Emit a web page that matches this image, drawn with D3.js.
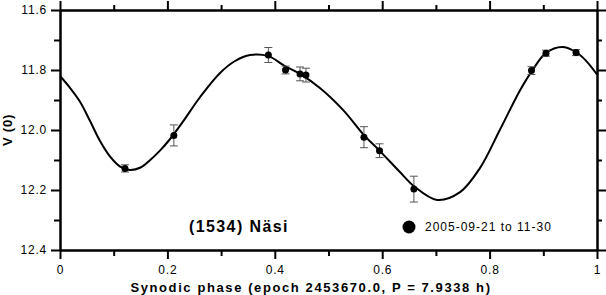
<!DOCTYPE html>
<html>
<head>
<meta charset="utf-8">
<script src="https://cdn.jsdelivr.net/npm/d3@7"></script>
<style>
  body { margin: 0; background: #fff; }
  svg { display: block; font-family: "Liberation Sans", Arial, sans-serif; }
</style>
</head>
<body>
<div id="chart"></div>
<script>
// observed points (phase, V mag, error)
const obsPhase = [0.121, 0.212, 0.388, 0.420, 0.447, 0.458, 0.566, 0.595, 0.659, 0.878, 0.905, 0.961];
const obsMag   = [12.128, 12.018, 11.750, 11.800, 11.813, 11.817, 12.024, 12.069, 12.197, 11.802, 11.744, 11.742];
const obsErr   = [0.012, 0.035, 0.025, 0.013, 0.023, 0.023, 0.035, 0.023, 0.043, 0.013, 0.010, 0.010];

// fitted curve
const fitPhase = [0, 0.018, 0.037, 0.056, 0.074, 0.093, 0.112, 0.130, 0.150, 0.168, 0.187, 0.205, 0.229, 0.261, 0.298, 0.326, 0.354, 0.387,
                  0.419, 0.447, 0.484, 0.527, 0.566, 0.594, 0.633, 0.659, 0.702, 0.745, 0.782, 0.819,
                  0.857, 0.879, 0.905, 0.935, 0.961, 0.981, 1.0];
const fitMag   = [11.820, 11.858, 11.905, 11.970, 12.035, 12.088, 12.122, 12.133, 12.125, 12.100, 12.067, 12.030, 11.972, 11.890, 11.810, 11.770, 11.750, 11.753,
                  11.787, 11.813, 11.860, 11.933, 12.017, 12.067, 12.140, 12.187, 12.233, 12.207, 12.127, 12.000,
                  11.867, 11.803, 11.743, 11.723, 11.740, 11.772, 11.815];

const xMajor = [0, 0.2, 0.4, 0.6, 0.8, 1];
const xMinor = [0.1, 0.3, 0.5, 0.7, 0.9];
const yMajor = [11.6, 11.8, 12.0, 12.2, 12.4];
const yMinor = [11.7, 11.9, 12.1, 12.3];

const titleText = "(1534) N\u00e4si";
const legendText = "2005-09-21 to 11-30";
const xTitle = "Synodic phase (epoch 2453670.0, P = 7.9338 h)";
const yTitle = "V (0)";

const width = 606, height = 295;
const marginLeft = 60, marginRight = 9, marginTop = 10, marginBottom = 45;

const svg = d3.select("#chart").append("svg")
    .attr("width", width)
    .attr("height", height);

const x = d3.scaleLinear().domain([0, 1]).range([marginLeft, width - marginRight]);
const y = d3.scaleLinear().domain([11.6, 12.4]).range([marginTop, height - marginBottom]);

function styleAxis(g) {
    g.select(".domain").attr("stroke-width", 2);
    g.selectAll(".tick line").attr("stroke-width", 2);
    g.selectAll(".tick text")
     .attr("font-size", 12)
     .attr("letter-spacing", 0.8)
     .attr("fill", "#000");
}

// minor ticks first, majors on top
svg.append("g").attr("transform", `translate(0,${y(12.4)})`)
   .call(d3.axisBottom(x).tickValues(xMinor).tickSize(6).tickSizeOuter(0).tickFormat(""))
   .call(styleAxis);
svg.append("g").attr("transform", `translate(0,${y(11.6)})`)
   .call(d3.axisTop(x).tickValues(xMinor).tickSize(5).tickSizeOuter(0).tickFormat(""))
   .call(styleAxis);
svg.append("g").attr("transform", `translate(${x(0)},0)`)
   .call(d3.axisLeft(y).tickValues(yMinor).tickSize(6).tickSizeOuter(0).tickFormat(""))
   .call(styleAxis);
svg.append("g").attr("transform", `translate(${x(1)},0)`)
   .call(d3.axisRight(y).tickValues(yMinor).tickSize(5).tickSizeOuter(0).tickFormat(""))
   .call(styleAxis);

svg.append("g").attr("transform", `translate(0,${y(12.4)})`)
   .call(d3.axisBottom(x).tickValues(xMajor).tickSize(9).tickSizeOuter(0).tickPadding(6)
         .tickFormat(d => d === 0 || d === 1 ? d3.format("d")(d) : d3.format(".1f")(d)))
   .call(styleAxis);
svg.append("g").attr("transform", `translate(0,${y(11.6)})`)
   .call(d3.axisTop(x).tickValues(xMajor).tickSize(9).tickSizeOuter(0).tickFormat(""))
   .call(styleAxis);
svg.append("g").attr("transform", `translate(${x(0)},0)`)
   .call(d3.axisLeft(y).tickValues(yMajor).tickSize(9).tickSizeOuter(0).tickPadding(4)
         .tickFormat(d3.format(".1f")))
   .call(styleAxis);
svg.append("g").attr("transform", `translate(${x(1)},0)`)
   .call(d3.axisRight(y).tickValues(yMajor).tickSize(9).tickSizeOuter(0).tickFormat(""))
   .call(styleAxis);

// fitted curve
const fit = fitPhase.map((p, i) => [p, fitMag[i]]);
svg.append("path")
   .datum(fit)
   .attr("fill", "none")
   .attr("stroke", "#000")
   .attr("stroke-width", 2)
   .attr("d", d3.line().x(d => x(d[0])).y(d => y(d[1])).curve(d3.curveCatmullRom.alpha(0.5)));

// observations
const obs = obsPhase.map((p, i) => ({phase: p, mag: obsMag[i], err: obsErr[i]}));
const pts = svg.append("g").selectAll("g").data(obs).join("g");
pts.append("line")
   .attr("x1", d => x(d.phase)).attr("x2", d => x(d.phase))
   .attr("y1", d => y(d.mag - d.err)).attr("y2", d => y(d.mag + d.err))
   .attr("stroke", "#555").attr("stroke-width", 1);
pts.append("line")
   .attr("x1", d => x(d.phase) - 4).attr("x2", d => x(d.phase) + 4)
   .attr("y1", d => y(d.mag - d.err)).attr("y2", d => y(d.mag - d.err))
   .attr("stroke", "#555").attr("stroke-width", 1);
pts.append("line")
   .attr("x1", d => x(d.phase) - 4).attr("x2", d => x(d.phase) + 4)
   .attr("y1", d => y(d.mag + d.err)).attr("y2", d => y(d.mag + d.err))
   .attr("stroke", "#555").attr("stroke-width", 1);
pts.append("circle")
   .attr("cx", d => x(d.phase))
   .attr("cy", d => y(d.mag))
   .attr("r", 3.5)
   .attr("fill", "#000");

// title and legend
svg.append("text")
   .attr("x", 189).attr("y", 232)
   .attr("font-size", 16).attr("font-weight", "bold").attr("letter-spacing", 1.4)
   .text(titleText);
svg.append("circle").attr("cx", 409).attr("cy", 227).attr("r", 6.5).attr("fill", "#000");
svg.append("text")
   .attr("x", 425).attr("y", 231)
   .attr("font-size", 12).attr("letter-spacing", 1.0)
   .text(legendText);

// axis titles
svg.append("text")
   .attr("x", 311).attr("y", 292)
   .attr("text-anchor", "middle")
   .attr("font-size", 13).attr("font-weight", "bold").attr("letter-spacing", 1.6)
   .text(xTitle);
svg.append("text")
   .attr("transform", `translate(12,${y(12.0)}) rotate(-90)`)
   .attr("text-anchor", "middle")
   .attr("font-size", 13).attr("font-weight", "bold").attr("letter-spacing", 0.8)
   .text(yTitle);
</script>
</body>
</html>
